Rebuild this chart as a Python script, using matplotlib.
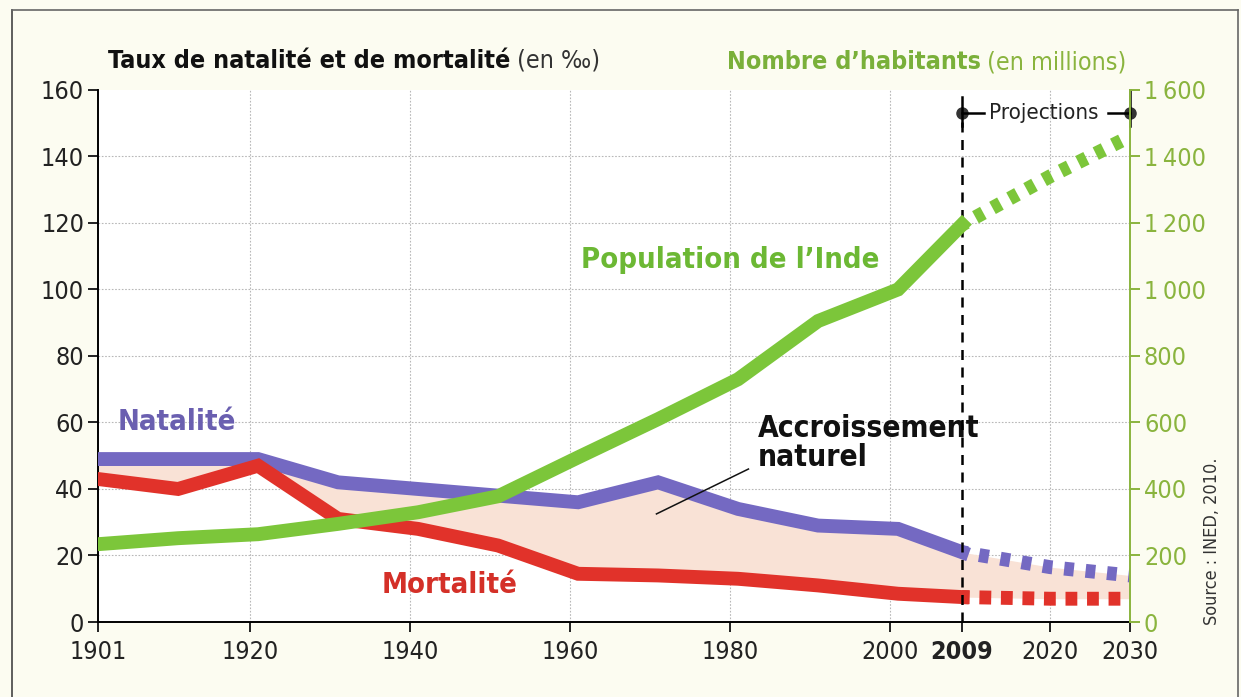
import numpy as np
import matplotlib
matplotlib.use('Agg')
from matplotlib import pyplot as plt
from matplotlib.lines import Line2D

plt.rcParams['font.family'] = ['DejaVu Sans']
plt.rcParams['font.stretch'] = 'condensed'

# data
years = [1901, 1911, 1921, 1931, 1941, 1951, 1961, 1971, 1981, 1991, 2001, 2009]
years_proj = [2009, 2020, 2030]
natalite = [49, 49, 49, 42, 40, 38, 36, 42, 34, 29, 28, 21]
natalite_proj = [21, 16.5, 14]
mortalite = [43, 40, 47, 31, 28, 23, 14.5, 14, 13, 11, 8.5, 7.5]
mortalite_proj = [7.5, 7, 7]
population = [234, 252, 264, 295, 330, 378, 495, 610, 730, 905, 1000, 1195]
population_proj = [1195, 1340, 1460]

xticks = [1901, 1920, 1940, 1960, 1980, 2000, 2009, 2020, 2030]
yticks = [0, 20, 40, 60, 80, 100, 120, 140, 160]
y2ticks = [0, 200, 400, 600, 800, 1000, 1200, 1400, 1600]
y2labels = ['0', '200', '400', '600', '800', '1\u202f000', '1\u202f200', '1\u202f400', '1\u202f600']

c_nat = '#7469c2'
c_mort = '#e1322a'
c_pop = '#7cc63a'
c_fill = '#f9e2d6'
c_axis_green = '#8ab43e'

fig = plt.figure(figsize=(12.41, 6.97), dpi=100, facecolor='#fcfcf1')
ax = fig.add_axes([0.079, 0.1076, 0.8316, 0.7634])
ax.set_facecolor('white')
ax2 = ax.twinx()

# natural growth area
yy = years + years_proj[1:]
ax.fill_between(yy, natalite + natalite_proj[1:], mortalite + mortalite_proj[1:],
                color=c_fill, lw=0, zorder=1)

lw = 10
ax.plot(years, natalite, color=c_nat, lw=lw, solid_joinstyle='miter', zorder=3)
ax.plot(years_proj, natalite_proj, color=c_nat, lw=lw, ls=(0.3, (0.7, 0.85)),
        dash_capstyle='butt', zorder=3)
ax.plot(years, mortalite, color=c_mort, lw=lw, solid_joinstyle='miter', zorder=4)
ax.plot(years_proj, mortalite_proj, color=c_mort, lw=lw, ls=(0.3, (0.85, 0.7)),
        dash_capstyle='butt', zorder=4)

ax2.plot(years, population, color=c_pop, lw=lw, solid_joinstyle='miter', zorder=5)
ax2.plot(years_proj, population_proj, color=c_pop, lw=lw, ls=(0.3, (0.65, 0.75)),
         dash_capstyle='butt', zorder=5)

ax.set_xlim(1901, 2030)
ax.set_ylim(0, 160)
ax2.set_ylim(0, 1600)
ax.set_zorder(2)
ax2.set_zorder(3)
ax2.patch.set_visible(False)

# grid
for y in yticks[1:-1]:
    ax.axhline(y, color='#b8b8b8', lw=0.8, ls=(0, (1.5, 1.5)), zorder=0)
for x in [1920, 1940, 1960, 1980, 2000, 2020]:
    ax.axvline(x, color='#b8b8b8', lw=0.8, ls=(0, (1.5, 1.5)), zorder=0)

# spines and ticks
for s in ['top', 'right']:
    ax.spines[s].set_visible(False)
for s in ['top', 'left', 'bottom']:
    ax2.spines[s].set_visible(False)
ax.spines['left'].set_linewidth(1.4)
ax.spines['bottom'].set_linewidth(1.4)
ax2.spines['right'].set_color(c_axis_green)
ax2.spines['right'].set_linewidth(1.4)

ax.set_xticks(xticks)
ax.set_xticklabels([str(x) for x in xticks])
ax.set_yticks(yticks)
ax.tick_params(axis='both', direction='out', length=7, width=1.4, labelsize=18,
               colors='#222222', pad=3)
ax.tick_params(axis='x', pad=6)
for lab in ax.get_xticklabels():
    if lab.get_text() == '2009':
        lab.set_fontweight('bold')
ax2.set_yticks(y2ticks)
ax2.set_yticklabels(y2labels)
ax2.tick_params(axis='y', direction='out', length=7, width=1.4, labelsize=18,
                colors=c_axis_green, pad=3)

# projection marker
ax.plot([2009, 2009], [0, 153], color='black', lw=1.8, ls=(0, (4, 3)), zorder=6, clip_on=False)
ax.plot([2009, 2030], [153, 153], 'o', color='#333333', ms=8, zorder=7, clip_on=False)
ax.plot([2009, 2009], [149, 158], color='black', lw=1.8, zorder=7, clip_on=False)
ax.plot([2030, 2030], [149, 160], color='black', lw=1.8, zorder=7, clip_on=False)
ax.plot([2009, 2011.8], [153, 153], color='black', lw=1.8, zorder=7, clip_on=False)
ax.plot([2027.2, 2030], [153, 153], color='black', lw=1.8, zorder=7, clip_on=False)
ax.text(2019.2, 153, 'Projections', ha='center', va='center', fontsize=16,
        color='#222222', zorder=7)

# labels on the chart
ax.text(1903.5, 60, 'Natalité', color='#6a5fb0', fontsize=21, fontweight='bold',
        va='center', ha='left')
ax.text(1945, 11, 'Mortalité', color='#d43028', fontsize=21, fontweight='bold',
        va='center', ha='center')
ax.text(1980, 109, 'Population de l\u2019Inde', color='#6cb834', fontsize=21,
        fontweight='bold', va='center', ha='center', zorder=8)
ax.text(1983.5, 62.5, 'Accroissement\nnaturel', color='#111111', fontsize=21.5,
        fontweight='bold', va='top', ha='left', linespacing=1.0)
ax.plot([1970.8, 1982.3], [32.5, 46], color='#111111', lw=1.1, zorder=6)

# axis titles
t1 = fig.text(0.087, 0.913, 'Taux de natalité et de mortalité', fontsize=18,
              fontweight='bold', color='#111111', va='center', ha='left')
ax.annotate(' (en \u2030)', xy=(1, 0.5), xycoords=t1, va='center', ha='left',
            fontsize=18, color='#333333')
t2 = fig.text(0.908, 0.911, ' (en millions)', fontsize=18, color=c_axis_green,
              va='center', ha='right')
ax.annotate('Nombre d\u2019habitants', xy=(0, 0.5), xycoords=t2, va='center', ha='right',
            fontsize=18, fontweight='bold', color='#7ab03a')

fig.text(0.9766, 0.103, 'Source : INED, 2010.', rotation=90, fontsize=13,
         color='#333333', va='bottom', ha='center')

# page frame
fig.add_artist(Line2D([0.0097, 0.0097], [0, 0.986], transform=fig.transFigure,
                      color='#444444', lw=1.2))
fig.add_artist(Line2D([0.0097, 0.9976], [0.986, 0.986], transform=fig.transFigure,
                      color='#666666', lw=1.2))
fig.add_artist(Line2D([0.9976, 0.9976], [0, 0.986], transform=fig.transFigure,
                      color='#666666', lw=1.2))

plt.savefig('out.png', dpi=100, facecolor=fig.get_facecolor())
